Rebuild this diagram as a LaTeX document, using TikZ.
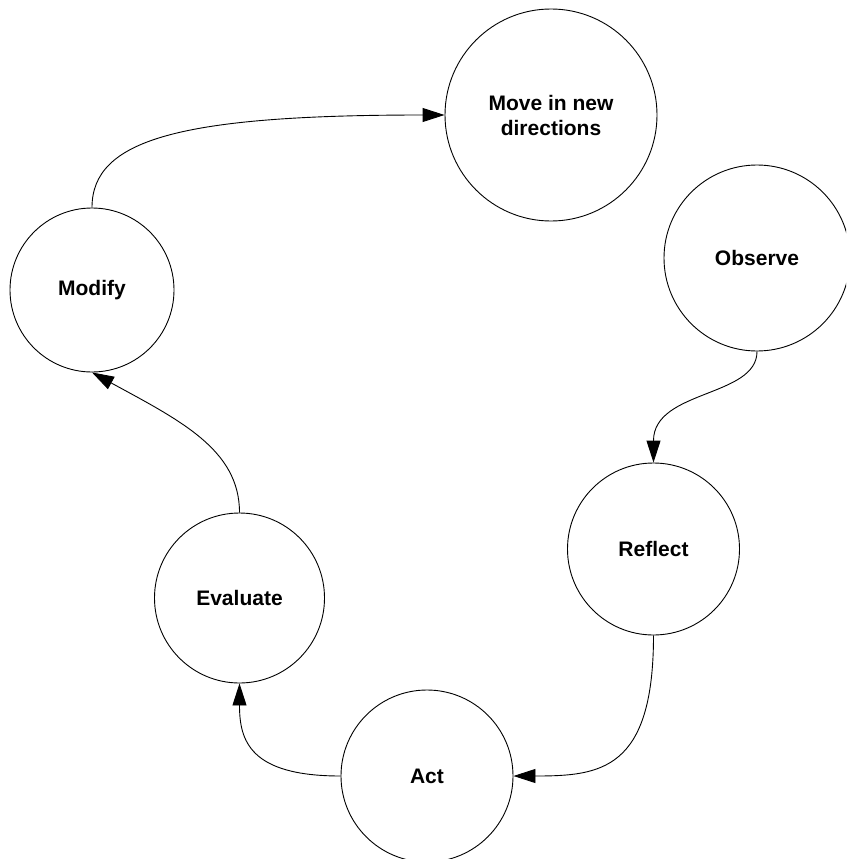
\documentclass[tikz,border=0pt]{standalone}
\usepackage{fontspec}
\setmainfont{Liberation Sans}
\usetikzlibrary{arrows.meta}

\begin{document}
\begin{tikzpicture}[x=1pt, y=-1pt,
  stage/.style={draw, circle, line width=0.9pt, inner sep=0pt, align=center,
    font=\bfseries\fontsize{21}{25}\selectfont},
  flow/.style={draw, line width=0.9pt, -{Triangle[length=22pt, width=14pt]}}
]
  % page frame
  \useasboundingbox (0,0) rectangle (846,859);
  \clip (0,0) rectangle (846,859);

  % stages of the cycle
  \node[stage, minimum size=212pt] (move)     at (551,115)   {Move in new\\directions};
  \node[stage, minimum size=186pt] (observe)  at (757,258)   {Observe};
  \node[stage, minimum size=164pt] (modify)   at (92,290)    {Modify};
  \node[stage, minimum size=172pt] (reflect)  at (653.5,549) {Reflect};
  \node[stage, minimum size=170pt] (evaluate) at (239.5,598) {Evaluate};
  \node[stage, minimum size=172pt] (act)      at (427,776)   {Act};

  % curved connectors between stages
  \draw[flow] (modify.north) .. controls +(0,-68) and +(-265,0) .. (move.west);
  \draw[flow] (observe.south) .. controls +(0,46) and +(0,-73) .. (reflect.north);
  \draw[flow] (reflect.south) .. controls +(0,135) and +(87,0) .. (act.east);
  \draw[flow] (act.west) .. controls +(-91,0) and +(0,57) .. (evaluate.south);
  \draw[flow] (evaluate.north) .. controls +(0,-63) and +(88,48) .. (modify.south);
\end{tikzpicture}
\end{document}
